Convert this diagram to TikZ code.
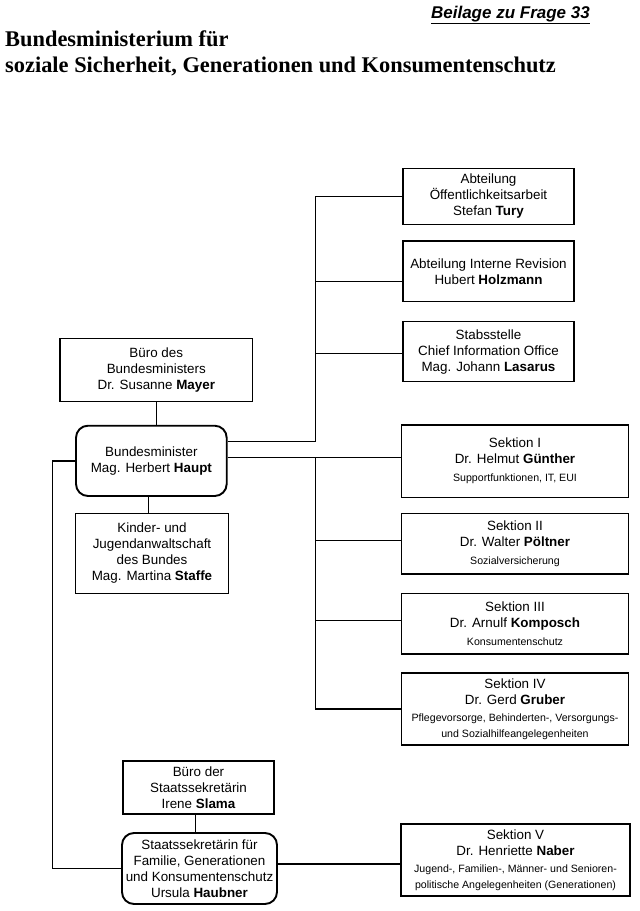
\documentclass[tikz,border=0pt]{standalone}
\usepackage{fontspec}
\setmainfont{Liberation Sans}
\newfontfamily\titlefont{Liberation Serif}
\newcommand\smtxt{\fontsize{10.6}{12.5}\selectfont}
\begin{document}
\begin{tikzpicture}[x=1pt,y=-1pt,
  box/.style={draw, line width=1.4pt, inner sep=0pt, align=center,
    font=\fontsize{13.4}{16}\selectfont},
  rbox/.style={box, rounded corners=12pt, line width=1.9pt},
  conn/.style={line width=1.3pt}]
\useasboundingbox[fill=white] (0,0) rectangle (640,911);

% headings
\node[anchor=base east, inner sep=0pt, font=\bfseries\itshape\fontsize{17}{20}\selectfont] (beilage) at (590,18) {\underline{Beilage zu Frage 33}};
\node[anchor=base west, inner sep=0pt, font=\titlefont\bfseries\fontsize{22.4}{26}\selectfont] (t1) at (5,46.5) {Bundesministerium für};
\node[anchor=base west, inner sep=0pt, font=\titlefont\bfseries\fontsize{22.4}{26}\selectfont] (t2) at (5,72) {soziale Sicherheit, Generationen und Konsumentenschutz};

% upper right boxes
\node[box, minimum width=171pt, minimum height=56pt] (oeff) at (488.5,196.3) {Abteilung\\Öffentlichkeitsarbeit\\Stefan \textbf{Tury}};
\node[box, minimum width=171pt, minimum height=60.7pt] (rev) at (488.5,271.3) {Abteilung Interne Revision\\Hubert \textbf{Holzmann}};
\node[box, minimum width=171pt, minimum height=60pt] (stab) at (488.5,351.7) {Stabsstelle\\Chief Information Office\\Mag. Johann \textbf{Lasarus}};

% left column
\node[box, minimum width=192.6pt, minimum height=63.4pt] (mayer) at (156.3,370) {Büro des\\Bundesministers\\Dr. Susanne \textbf{Mayer}};
\node[rbox, minimum width=150.7pt, minimum height=70.3pt] (haupt) at (151.35,460.85) {Bundesminister\\Mag. Herbert \textbf{Haupt}};
\node[box, minimum width=152.6pt, minimum height=80pt] (staffe) at (152,553.3) {Kinder- und\\Jugendanwaltschaft\\des Bundes\\Mag. Martina \textbf{Staffe}};
\node[box, minimum width=151pt, minimum height=53pt] (buero) at (198.5,787.5) {Büro der\\Staatssekretärin\\Irene \textbf{Slama}};
\node[rbox, minimum width=155pt, minimum height=71pt] (haubner) at (199.5,868.5) {Staatssekretärin für\\Familie, Generationen\\und Konsumentenschutz\\Ursula \textbf{Haubner}};

% sections
\node[box, minimum width=227pt, minimum height=72.3pt] (sek1) at (515,461.2) {Sektion I\\Dr. Helmut \textbf{Günther}\\[2pt]\smtxt Supportfunktionen, IT, EUI};
\node[box, minimum width=227pt, minimum height=60.7pt] (sek2) at (515,543.7) {Sektion II\\Dr. Walter \textbf{Pöltner}\\[2pt]\smtxt Sozialversicherung};
\node[box, minimum width=227pt, minimum height=60.7pt] (sek3) at (515,623.7) {Sektion III\\Dr. Arnulf \textbf{Komposch}\\[2pt]\smtxt Konsumentenschutz};
\node[box, minimum width=227pt, minimum height=72pt] (sek4) at (515,709) {Sektion IV\\Dr. Gerd \textbf{Gruber}\\[1pt]\smtxt Pflegevorsorge, Behinderten-, Versorgungs-\\\smtxt und Sozialhilfeangelegenheiten};
\node[box, minimum width=229pt, minimum height=72pt] (sek5) at (515.5,860) {Sektion V\\Dr. Henriette \textbf{Naber}\\[1pt]\smtxt Jugend-, Familien-, Männer- und Senioren-\\\smtxt politische Angelegenheiten (Generationen)};

% junctions
\coordinate (ju) at (315.5,441.5);
\coordinate (jrev) at (315.5,281.5);
\coordinate (jstab) at (315.5,353.5);
\coordinate (jl) at (315.5,457.5);
\coordinate (j2) at (315.5,540.5);
\coordinate (j3) at (315.5,620.5);
\coordinate (jleft) at (52.5,460.85);
\coordinate (jh) at ([yshift=4.5pt]haubner.east);

% connectors
\draw[conn] (mayer.south) -- (mayer.south |- haupt.north);
\draw[conn] ([xshift=-3pt]haupt.south) -- ([xshift=-3pt]haupt.south |- staffe.north);
\draw[conn] (haupt.east |- ju) -- (ju) |- (oeff.west);
\draw[conn] (jrev) -- (rev.west |- jrev);
\draw[conn] (jstab) -- (stab.west |- jstab);
\draw[conn] (haupt.east |- jl) -- (sek1.west |- jl);
\draw[conn] (jl) |- (sek4.west);
\draw[conn] (j2) -- (sek2.west |- j2);
\draw[conn] (j3) -- (sek3.west |- j3);
\draw[conn] (haupt.west) -- (jleft) |- (haubner.west);
\draw[conn] ([xshift=-2.8pt]buero.south) -- ([xshift=-2.8pt]buero.south |- haubner.north);
\draw[conn] (jh) -- (sek5.west |- jh);
\end{tikzpicture}
\end{document}
